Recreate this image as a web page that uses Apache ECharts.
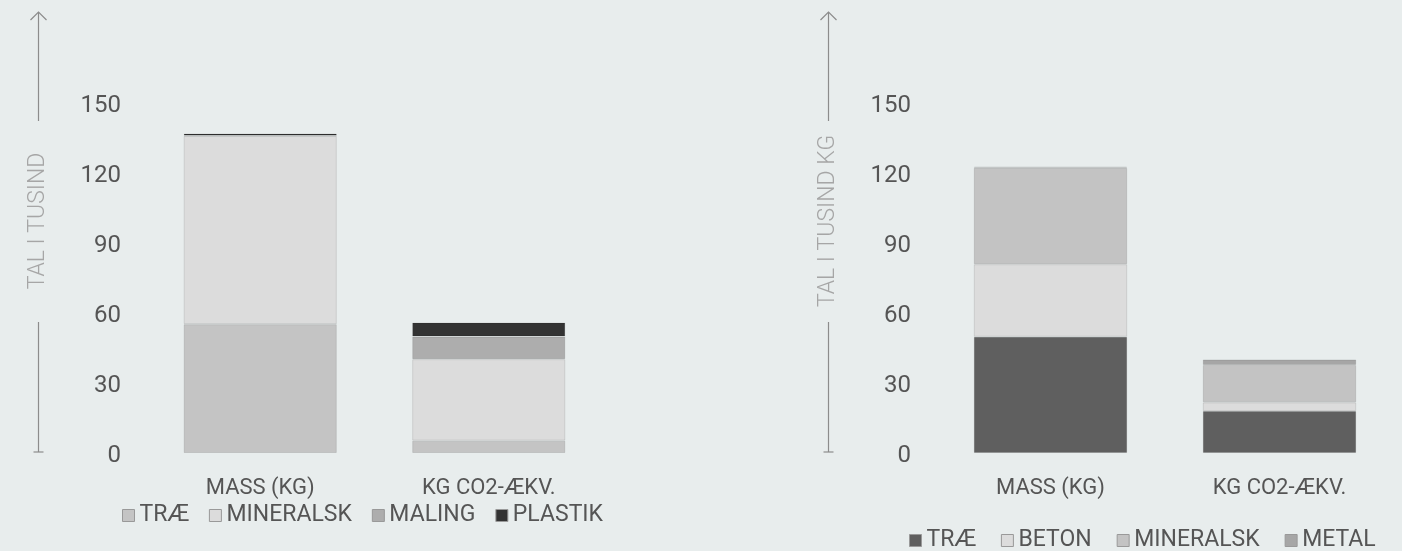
<!DOCTYPE html>
<html>
<head>
<meta charset="utf-8">
<script src="https://cdn.jsdelivr.net/npm/echarts@6/dist/echarts.min.js"></script>
<style>
html,body{margin:0;padding:0;background:#e8eded;}
#c{width:1402px;height:551px;}
</style>
</head>
<body>
<div id="c"></div>
<script>
// ---- data ----
const categories = ['MASS (KG)', 'KG CO2-ÆKV.'];
const yTicks = [0, 30, 60, 90, 120, 150];

// left chart
const leftNames = ['TRÆ', 'MINERALSK', 'MALING', 'PLASTIK'];
const leftTrae = [55.2, 5.3];
const leftMineralsk = [80.7, 34.9];
const leftMaling = [0.2, 9.7];
const leftPlastik = [0.8, 6.0];
const leftColors = ['#c4c4c4', '#dcdcdc', '#adadad', '#333333'];

// right chart
const rightNames = ['TRÆ', 'BETON', 'MINERALSK', 'METAL'];
const rightTrae = [49.8, 18.0];
const rightBeton = [31.1, 3.7];
const rightMineralsk = [41.3, 16.0];
const rightMetal = [0.5, 2.4];
const rightColors = ['#5f5f5f', '#dcdcdc', '#c3c3c3', '#a6a6a6'];

const leftValues = [leftTrae, leftMineralsk, leftMaling, leftPlastik];
const rightValues = [rightTrae, rightBeton, rightMineralsk, rightMetal];

const FONT = 'Roboto';
const chart = echarts.init(document.getElementById('c'));

function yAxis(gridIndex) {
  return {
    type: 'value', gridIndex: gridIndex, min: yTicks[0], max: yTicks[yTicks.length - 1], interval: 30,
    axisLine: {show: false}, axisTick: {show: false}, splitLine: {show: false},
    axisLabel: {
      formatter: '{a|{value}}', margin: 25,
      rich: {a: {color: '#555555', fontSize: 24, fontFamily: FONT, padding: [6, 0, 0, 0]}}
    }
  };
}
function xAxis(gridIndex) {
  return {
    type: 'category', gridIndex: gridIndex, data: categories,
    axisLine: {show: false}, axisTick: {show: false},
    axisLabel: {color: '#555555', fontSize: 22, fontFamily: FONT, margin: 24}
  };
}
function mkSeries(names, values, colors, idx, stack) {
  return names.map((n, i) => ({
    name: n, type: 'bar', stack: stack, xAxisIndex: idx, yAxisIndex: idx,
    data: values[i], barCategoryGap: '33%',
    itemStyle: {color: colors[i], borderColor: 'rgba(0,0,0,0.10)', borderWidth: 1},
    emphasis: {disabled: true}
  }));
}
function deco(x, label) {
  const c = '#8c8c8c';
  return [
    {type: 'line', shape: {x1: x, y1: 12, x2: x, y2: 121}, style: {stroke: c, lineWidth: 1.2}},
    {type: 'polyline', shape: {points: [[x - 8, 20], [x, 12], [x + 8, 20]]}, style: {stroke: c, lineWidth: 1.2, fill: null}},
    {type: 'line', shape: {x1: x, y1: 322, x2: x, y2: 452}, style: {stroke: c, lineWidth: 1.2}},
    {type: 'line', shape: {x1: x - 5, y1: 452, x2: x + 5, y2: 452}, style: {stroke: c, lineWidth: 1.2}},
    {type: 'text', x: x, y: 221, rotation: Math.PI / 2,
      style: {text: label, fill: '#a6a6a6', font: '300 23px ' + FONT, align: 'center', verticalAlign: 'middle'}}
  ];
}

const legendBase = {
  icon: 'rect', itemWidth: 12, itemHeight: 12,
  textStyle: {color: '#555555', fontSize: 23, fontFamily: FONT},
  itemStyle: {borderColor: '#999999', borderWidth: 1}
};

chart.setOption({
  backgroundColor: '#e8eded',
  animation: false,
  grid: [
    {left: 146, right: 799, top: 103, bottom: 98},
    {left: 936, right: 8, top: 103, bottom: 98}
  ],
  xAxis: [xAxis(0), xAxis(1)],
  yAxis: [yAxis(0), yAxis(1)],
  legend: [
    Object.assign({}, legendBase, {itemGap: 20, data: leftNames.map((n, i) => ({name: n, itemStyle: {color: leftColors[i]}})), left: 117, top: 499}),
    Object.assign({}, legendBase, {itemGap: 25, data: rightNames.map((n, i) => ({name: n, itemStyle: {color: rightColors[i]}})), left: 904, top: 524})
  ],
  graphic: deco(38.5, 'TAL I TUSIND').concat(deco(828.5, 'TAL I TUSIND KG')),
  series: mkSeries(leftNames, leftValues, leftColors, 0, 'L').concat(mkSeries(rightNames, rightValues, rightColors, 1, 'R'))
});
</script>
</body>
</html>
